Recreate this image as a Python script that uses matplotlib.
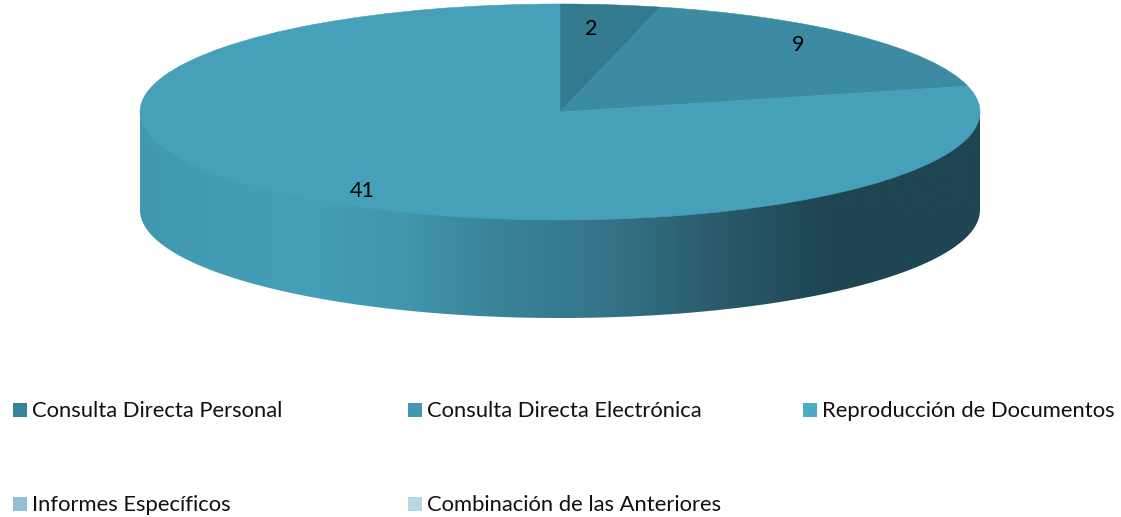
import numpy as np
import matplotlib
matplotlib.use('Agg')
import matplotlib.pyplot as plt
from matplotlib.colors import LinearSegmentedColormap
from matplotlib.patches import Polygon, Rectangle

categories = ['Consulta Directa Personal', 'Consulta Directa Electrónica', 'Reproducción de Documentos',
              'Informes Específicos', 'Combinación de las Anteriores']
values = [2, 9, 41, 0, 0]
slice_colors = ['#347a8f', '#3d8ba2', '#46a0b9', '#92c1d4', '#b7d7e5']
legend_colors = ['#37819a', '#4298b0', '#4bacc6', '#92c1d4', '#b7d7e5']

W, H = 1121, 517
cx, cy, rx, ry, depth = 560, 112, 420, 108, 98

plt.rcParams['font.family'] = ['Lato', 'DejaVu Sans']
fig = plt.figure(figsize=(W/100, H/100), dpi=100)

# axes covers the ellipse plus the wall below it, units are pie radii
d = depth/ry
ax = fig.add_axes([(cx-rx)/W, 1-(cy+ry+depth)/H, 2*rx/W, (2*ry+depth)/H])
wedges, _ = ax.pie(values, colors=slice_colors, startangle=90, counterclock=False, radius=1,
                   wedgeprops=dict(linewidth=0, zorder=3))
for w, col, v in zip(wedges, slice_colors, values):
    if v > 0:  # edge hides the seams, empty slices must stay invisible
        w.set_edgecolor(col)
        w.set_linewidth(0.4)
ax.set_aspect('auto')

# side wall, shaded left to right
stops = [(0.0, '#4098b1'), (0.08, '#439cb5'), (0.2, '#459fb8'), (0.31, '#4296ad'), (0.43, '#3a8298'),
         (0.55, '#35748a'), (0.68, '#2b5c6e'), (0.82, '#1e4552'), (1.0, '#1e4552')]
cmap = LinearSegmentedColormap.from_list('wall', stops)
grad = np.linspace(0, 1, 512).reshape(1, -1)
im = ax.imshow(grad, cmap=cmap, extent=[-1, 1, -1-d, 0], aspect='auto', zorder=1)
t = np.linspace(np.pi, 2*np.pi, 300)
bottom = np.column_stack([np.cos(t), np.sin(t) - d])
# top edge runs straight through the centre, the pie hides it
wall = Polygon(np.vstack([[[-1, 0]], bottom, [[1, 0]]]), closed=True, transform=ax.transData,
               facecolor='none', edgecolor='none')
ax.add_patch(wall)
im.set_clip_path(wall)
ax.set_xlim(-1, 1)
ax.set_ylim(-1-d, 1)

# slice labels
for txt, (px, py) in zip(values[:3], [(591, 29), (798, 45), (362, 191)]):
    fig.text(px/W, 1-py/H, str(txt), ha='center', va='center', fontsize=15.5, color='black')

# legend
positions = [(13, 410), (408, 410), (803, 410), (13, 504), (408, 504)]
for name, col, (px, py) in zip(categories, legend_colors, positions):
    fig.add_artist(Rectangle((px/W, 1-(py+7)/H), 14/W, 14/H, transform=fig.transFigure,
                             facecolor=col, edgecolor='none'))
    fig.text((px+19)/W, 1-(py+1)/H, name, ha='left', va='center', fontsize=15.85, color='#111111')

plt.savefig('out.png', dpi=100)
